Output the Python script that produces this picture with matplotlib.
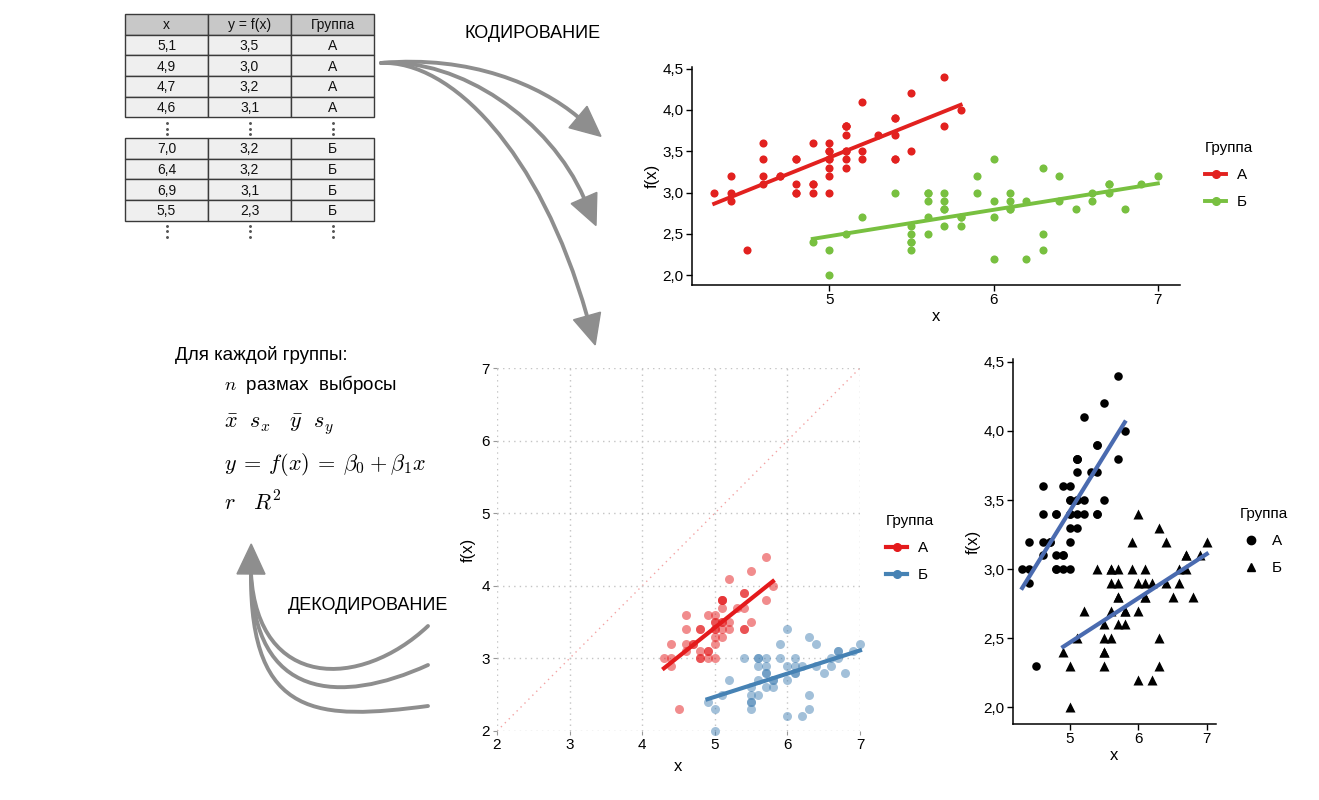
import numpy as np
import matplotlib
matplotlib.use("Agg")
import matplotlib.pyplot as plt
from matplotlib.path import Path
from matplotlib.patches import PathPatch, Polygon, Rectangle
from matplotlib.lines import Line2D
from matplotlib.ticker import FuncFormatter, MultipleLocator

plt.rcParams["font.family"] = ["Liberation Sans", "DejaVu Sans"]
plt.rcParams["mathtext.fontset"] = "cm"

W, H = 1319, 800

# --- data: iris sepal length (x) / sepal width (y), A = setosa, Б = versicolor
X_A = [5.1, 4.9, 4.7, 4.6, 5.0, 5.4, 4.6, 5.0, 4.4, 4.9, 5.4, 4.8, 4.8, 4.3, 5.8, 5.7, 5.4,
       5.1, 5.7, 5.1, 5.4, 5.1, 4.6, 5.1, 4.8, 5.0, 5.0, 5.2, 5.2, 4.7, 4.8, 5.4, 5.2, 5.5,
       4.9, 5.0, 5.5, 4.9, 4.4, 5.1, 5.0, 4.5, 4.4, 5.0, 5.1, 4.8, 5.1, 4.6, 5.3, 5.0]
Y_A = [3.5, 3.0, 3.2, 3.1, 3.6, 3.9, 3.4, 3.4, 2.9, 3.1, 3.7, 3.4, 3.0, 3.0, 4.0, 4.4, 3.9,
       3.5, 3.8, 3.8, 3.4, 3.7, 3.6, 3.3, 3.4, 3.0, 3.4, 3.5, 3.4, 3.2, 3.1, 3.4, 4.1, 4.2,
       3.1, 3.2, 3.5, 3.6, 3.0, 3.4, 3.5, 2.3, 3.2, 3.5, 3.8, 3.0, 3.8, 3.2, 3.7, 3.3]
X_B = [7.0, 6.4, 6.9, 5.5, 6.5, 5.7, 6.3, 4.9, 6.6, 5.2, 5.0, 5.9, 6.0, 6.1, 5.6, 6.7, 5.6,
       5.8, 6.2, 5.6, 5.9, 6.1, 6.3, 6.1, 6.4, 6.6, 6.8, 6.7, 6.0, 5.7, 5.5, 5.5, 5.8, 6.0,
       5.4, 6.0, 6.7, 6.3, 5.6, 5.5, 5.5, 6.1, 5.8, 5.0, 5.6, 5.7, 5.7, 6.2, 5.1, 5.7]
Y_B = [3.2, 3.2, 3.1, 2.3, 2.8, 2.8, 3.3, 2.4, 2.9, 2.7, 2.0, 3.0, 2.2, 2.9, 2.9, 3.1, 3.0,
       2.7, 2.2, 2.5, 3.2, 2.8, 2.5, 2.8, 2.9, 3.0, 2.8, 3.0, 2.9, 2.6, 2.4, 2.4, 2.7, 2.7,
       3.0, 3.4, 3.1, 2.3, 3.0, 2.5, 2.6, 3.0, 2.6, 2.3, 2.7, 3.0, 2.9, 2.9, 2.5, 2.8]
GROUPS = ["А", "Б"]

# first rows of the table
TAB_HEAD = ["x", "y = f(x)", "Группа"]
TAB_A = [["5,1", "3,5", "А"], ["4,9", "3,0", "А"], ["4,7", "3,2", "А"], ["4,6", "3,1", "А"]]
TAB_B = [["7,0", "3,2", "Б"], ["6,4", "3,2", "Б"], ["6,9", "3,1", "Б"], ["5,5", "2,3", "Б"]]

RED = "#e2211f"; GREEN = "#78c040"
RED2 = "#e41a1c"; BLUE2 = "#4682b4"
BLUE3 = "#4a6bb0"
ARROW = "#8e8e8e"

comma = FuncFormatter(lambda v, p: f"{v:.1f}".replace(".", ","))


def fit(x, y):
    b1, b0 = np.polyfit(x, y, 1)
    xs = np.array([min(x), max(x)])
    return xs, b0 + b1 * xs


def px_axes(fig, l, t, r, b):
    return fig.add_axes([l / W, 1 - b / H, (r - l) / W, (b - t) / H])


def classic(ax):
    for s in ("top", "right"):
        ax.spines[s].set_visible(False)
    for s in ("left", "bottom"):
        ax.spines[s].set_linewidth(1.1)
    ax.tick_params(labelsize=11, length=4, width=1, colors="black", pad=2)
    ax.set_xlim(4.165, 7.135)
    ax.set_ylim(1.88, 4.52)
    ax.xaxis.set_major_locator(MultipleLocator(1))
    ax.yaxis.set_major_locator(MultipleLocator(0.5))
    ax.yaxis.set_major_formatter(comma)
    ax.set_xlabel("x", fontsize=12, labelpad=1)
    ax.set_ylabel("f(x)", fontsize=12, labelpad=2)


def legend(ax, handles, x, y):
    ax.legend(handles, GROUPS, title="Группа", loc="upper left", frameon=False,
              bbox_to_anchor=(x / W, 1 - y / H), bbox_transform=ax.figure.transFigure,
              alignment="left", fontsize=11, title_fontsize=11, borderpad=0,
              borderaxespad=0, handlelength=1.4, handletextpad=0.7, labelspacing=0.85)


def curve(ax, pts, head=True, hl=30, hw=14):
    path = Path(pts, [Path.MOVETO, Path.CURVE4, Path.CURVE4, Path.CURVE4])
    ax.add_patch(PathPatch(path, fc="none", ec=ARROW, lw=2.8, capstyle="round"))
    if head:
        p2, p3 = np.array(pts[2], float), np.array(pts[3], float)
        d = (p3 - p2) / np.hypot(*(p3 - p2))
        n = np.array([-d[1], d[0]])
        tip = p3 + d * hl
        ax.add_patch(Polygon([tip, p3 + n * hw, p3 - n * hw], closed=True,
                             fc=ARROW, ec=ARROW, lw=1, zorder=3))


fig = plt.figure(figsize=(W / 100, H / 100), dpi=100)
fig.patch.set_facecolor("white")

# overlay in pixel coordinates for table, arrows and text
ov = fig.add_axes([0, 0, 1, 1], zorder=0)
ov.set_xlim(0, W); ov.set_ylim(H, 0); ov.axis("off")

# --- table
col_x = [125, 208, 291, 374]
row_h = 20.7


def draw_rows(rows, y0, head=False):
    for i, row in enumerate(rows):
        y = y0 + i * row_h
        for j, txt in enumerate(row):
            ov.add_patch(Rectangle((col_x[j], y), col_x[j + 1] - col_x[j], row_h,
                                   fc="#c8c8c8" if (head and i == 0) else "#efefef",
                                   ec="#3a3a3a", lw=1))
            ov.text((col_x[j] + col_x[j + 1]) / 2, y + row_h / 2 + 1, txt,
                    ha="center", va="center", fontsize=10, color="#111111")


draw_rows([TAB_HEAD] + TAB_A, 14, head=True)
draw_rows(TAB_B, 138)
for yy in (123, 138 + 4 * row_h + 5):
    for j in range(3):
        cx = (col_x[j] + col_x[j + 1]) / 2
        ov.plot([cx] * 3, [yy, yy + 5.5, yy + 11], ls="none", marker="o", ms=1.1,
                color="#555555")

ov.text(533, 34, "КОДИРОВАНИЕ", ha="center", va="center", fontsize=13)
ov.text(368, 606, "ДЕКОДИРОВАНИЕ", ha="center", va="center", fontsize=13)

# --- encoding arrows
curve(ov, [(381, 63), (470, 55), (540, 85), (578, 117)])
curve(ov, [(381, 63), (460, 58), (550, 120), (584, 198)])
curve(ov, [(381, 63), (450, 60), (540, 150), (587, 316)])

# --- decoding arrows
curve(ov, [(428, 626), (360, 690), (258, 690), (251, 574)], head=False)
curve(ov, [(428, 665), (340, 705), (253, 700), (251, 574)], head=False)
curve(ov, [(428, 706), (320, 720), (250, 720), (251, 574)])

# --- summary text
ov.text(175, 355, "Для каждой группы:", ha="left", va="center", fontsize=13.5)
ov.text(224, 385, "$n$  размах  выбросы", ha="left", va="center", fontsize=13.5)
ov.text(224, 425, r"$\bar{x}\ \ s_x\ \ \ \bar{y}\ \ s_y$", ha="left", va="center", fontsize=16)
ov.text(224, 465, r"$y\:=\:f(x)\:=\:\beta_0\:+\:\beta_1 x$", ha="left", va="center", fontsize=16)
ov.text(224, 503, r"$r\ \ \ R^2$", ha="left", va="center", fontsize=16)

# --- top chart (colour)
ax1 = px_axes(fig, 692, 67, 1180, 285)
ax1.scatter(X_A, Y_A, s=34, color=RED, lw=0, zorder=3, clip_on=False)
ax1.scatter(X_B, Y_B, s=34, color=GREEN, lw=0, zorder=3, clip_on=False)
for x, y, c in ((X_A, Y_A, RED), (X_B, Y_B, GREEN)):
    xs, ys = fit(x, y)
    ax1.plot(xs, ys, color=c, lw=2.8, zorder=4)
classic(ax1)
legend(ax1, [Line2D([], [], color=c, lw=2.8, marker="o", ms=5.5) for c in (RED, GREEN)], 1205, 141)

# --- bottom-middle chart (equal axes, dotted grid)
ax2 = px_axes(fig, 497, 368, 860, 731)
ax2.set_xlim(2, 7); ax2.set_ylim(2, 7)
for s in ax2.spines.values():
    s.set_visible(False)
ax2.grid(True, color="#c4c4c4", ls=(0, (1, 3)), lw=1)
ax2.plot([2, 7], [2, 7], color="#f3a3a3", ls=(0, (1, 3)), lw=1, zorder=1)
ax2.scatter(X_A, Y_A, s=42, color=RED2, alpha=0.5, lw=0, zorder=3, clip_on=False)
ax2.scatter(X_B, Y_B, s=42, color=BLUE2, alpha=0.5, lw=0, zorder=3, clip_on=False)
for x, y, c in ((X_A, Y_A, RED2), (X_B, Y_B, BLUE2)):
    xs, ys = fit(x, y)
    ax2.plot(xs, ys, color=c, lw=3, zorder=4, clip_on=False)
ax2.xaxis.set_major_locator(MultipleLocator(1))
ax2.yaxis.set_major_locator(MultipleLocator(1))
ax2.tick_params(labelsize=11, length=3, width=0.8, color="#999999", pad=2)
ax2.set_xlabel("x", fontsize=12, labelpad=5)
ax2.set_ylabel("f(x)", fontsize=12, labelpad=4)
legend(ax2, [Line2D([], [], color=c, lw=3, marker="o", ms=5.5) for c in (RED2, BLUE2)], 886, 514)

# --- bottom-right chart (black & white shapes)
ax3 = px_axes(fig, 1013, 359, 1216, 724)
ax3.scatter(X_A, Y_A, s=38, color="black", marker="o", lw=0, zorder=3, clip_on=False)
ax3.scatter(X_B, Y_B, s=52, color="black", marker="^", lw=0, zorder=3, clip_on=False)
for x, y in ((X_A, Y_A), (X_B, Y_B)):
    xs, ys = fit(x, y)
    ax3.plot(xs, ys, color=BLUE3, lw=3, zorder=4)
classic(ax3)
legend(ax3, [Line2D([], [], color="black", ls="none", marker=m, ms=6) for m in ("o", "^")], 1240, 507)

fig.savefig("out.png", dpi=100, facecolor="white")
